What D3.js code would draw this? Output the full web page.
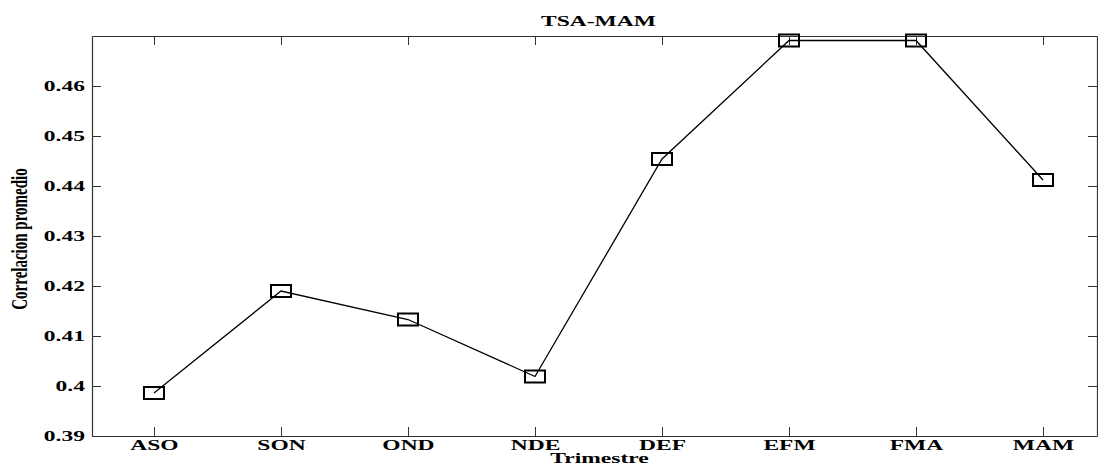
<!DOCTYPE html>
<html>
<head>
<meta charset="utf-8">
<script src="https://cdn.jsdelivr.net/npm/d3@7"></script>
<style>
  html, body { margin: 0; padding: 0; background: #fff; }
  svg { display: block; }
  text { font-family: "Liberation Serif", "Times New Roman", serif; font-weight: bold; fill: #000; }
</style>
</head>
<body>
<svg id="chart" width="1098" height="466"></svg>
<script>
const categories = ["ASO", "SON", "OND", "NDE", "DEF", "EFM", "FMA", "MAM"];
const values = [0.3986, 0.4190, 0.4133, 0.4019, 0.4454, 0.4691, 0.4691, 0.4412];
const yTickValues = [0.39, 0.40, 0.41, 0.42, 0.43, 0.44, 0.45, 0.46];
const yTickLabels = ["0.39", "0.4", "0.41", "0.42", "0.43", "0.44", "0.45", "0.46"];
const titleText = "TSA-MAM";
const xLabel = "Trimestre";
const yLabel = "Correlacion promedio";

const W = 1098, H = 466;
const m = { left: 92, right: 1, top: 36, bottom: 30 };
const pw = W - m.left - m.right, ph = H - m.top - m.bottom;
const SX = 1.68;

const svg = d3.select("#chart");
const g = svg.append("g").attr("transform", `translate(${m.left},${m.top})`);

const x = d3.scaleLinear().domain([0.512, 8.425]).range([0, pw]);
const y = d3.scaleLinear().domain([0.39, 0.47]).range([ph, 0]);
const idx = categories.map((c, i) => i + 1);

// axes
const axB = g.append("g").attr("transform", `translate(0,${ph})`)
  .call(d3.axisBottom(x).tickValues(idx).tickFormat((d, i) => categories[i]).tickSize(-9).tickSizeOuter(0));
const axT = g.append("g")
  .call(d3.axisTop(x).tickValues(idx).tickFormat("").tickSize(-9).tickSizeOuter(0));
const axL = g.append("g")
  .call(d3.axisLeft(y).tickValues(yTickValues).tickFormat((d, i) => yTickLabels[i]).tickSize(-9).tickSizeOuter(0));
const axR = g.append("g").attr("transform", `translate(${pw},0)`)
  .call(d3.axisRight(y).tickValues(yTickValues).tickFormat("").tickSize(-9).tickSizeOuter(0));

[axB, axT, axL, axR].forEach(a => {
  a.select(".domain").attr("stroke", "#333").attr("stroke-width", 1.2);
  a.selectAll(".tick line").attr("stroke", "#333").attr("stroke-width", 1);
});

axB.selectAll(".tick text")
  .attr("font-size", 14).attr("font-family", null)
  .attr("y", null).attr("dy", null)
  .attr("text-anchor", "middle")
  .attr("transform", `translate(0,14) scale(${SX},1)`);

axL.selectAll(".tick text")
  .attr("font-size", 14).attr("font-family", null)
  .attr("x", null).attr("dy", "0.33em")
  .attr("text-anchor", "end")
  .attr("transform", `translate(-7,0) scale(${SX},1)`);

// line
const line = d3.line().x((d, i) => x(idx[i])).y(d => y(d));
g.append("path").datum(values)
  .attr("d", line)
  .attr("fill", "none")
  .attr("stroke", "#000")
  .attr("stroke-width", 1.3);

// markers
const mw = 20, mh = 12;
g.selectAll("rect.mk").data(values).join("rect")
  .attr("class", "mk")
  .attr("x", (d, i) => x(idx[i]) - mw / 2)
  .attr("y", d => y(d) - mh / 2)
  .attr("width", mw).attr("height", mh)
  .attr("fill", "none")
  .attr("stroke", "#000")
  .attr("stroke-width", 2);

// title
svg.append("text")
  .attr("font-size", 14)
  .attr("text-anchor", "middle")
  .attr("transform", `translate(${m.left + x(4.5) + 0},26) scale(${SX},1)`)
  .text(titleText);

// x label
svg.append("text")
  .attr("font-size", 14)
  .attr("text-anchor", "middle")
  .attr("transform", `translate(${m.left + x(4.5) + 1},463) scale(${SX},1)`)
  .text(xLabel);

// y label
svg.append("text")
  .attr("font-size", 15)
  .attr("text-anchor", "middle")
  .attr("transform", `translate(27,239) rotate(-90) scale(1,1.6)`)
  .text(yLabel);
</script>
</body>
</html>
